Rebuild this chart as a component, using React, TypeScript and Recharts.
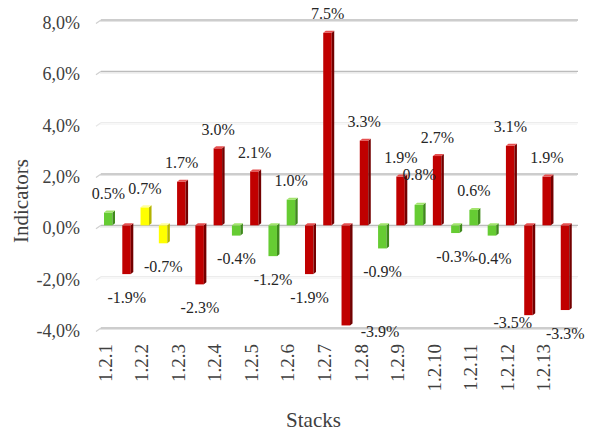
import React from 'react';
import { BarChart, Bar, XAxis, YAxis, CartesianGrid, LabelList } from 'recharts';

// Stack identifiers along the horizontal axis
const categories = [
  '1.2.1', '1.2.2', '1.2.3', '1.2.4', '1.2.5', '1.2.6', '1.2.7',
  '1.2.8', '1.2.9', '1.2.10', '1.2.11', '1.2.12', '1.2.13',
];

// Indicator values in percent, two per stack
const firstValues = [0.5, 0.7, 1.7, 3.0, 2.1, 1.0, 7.5, 3.3, 1.9, 2.7, 0.6, 3.1, 1.9];
const secondValues = [-1.9, -0.7, -2.3, -0.4, -1.2, -1.9, -3.9, -0.9, 0.8, -0.3, -0.4, -3.5, -3.3];

// Status of each value (drives the bar colour)
const firstStatus = ['ok', 'warn', 'alert', 'alert', 'alert', 'ok', 'alert', 'alert', 'alert', 'alert', 'ok', 'alert', 'alert'];
const secondStatus = ['alert', 'warn', 'alert', 'ok', 'ok', 'alert', 'alert', 'ok', 'ok', 'ok', 'ok', 'alert', 'alert'];

const yTicks = [-4, -2, 0, 2, 4, 6, 8];
const Y_MIN = -4;
const Y_MAX = 8;

const rows = categories.map((category, i) => ({
  category,
  first: firstValues[i],
  second: secondValues[i],
  firstStatus: firstStatus[i],
  secondStatus: secondStatus[i],
}));

const palette: Record<string, { front: string; side: string; top: string }> = {
  ok: { front: '#66cc33', side: '#3f8a1c', top: '#a2e46c' },
  warn: { front: '#ffff00', side: '#b3b300', top: '#ffff9c' },
  alert: { front: '#c00000', side: '#730000', top: '#e65050' },
};

const FONT = '"Liberation Serif", "Times New Roman", serif';
const AXIS_TEXT = '#404040';
const DEPTH_X = 2.5;
const DEPTH_Y = 2;

// Box-shaped bar with a front face, a darker side face and a lighter lid
const makeShape = (statusKey: 'firstStatus' | 'secondStatus') => (props: any) => {
  const { x, y, width, height, payload } = props;
  if (x == null || y == null) return null;
  const c = palette[payload[statusKey]];
  const top = Math.min(y, y + height);
  const bottom = Math.max(y, y + height);
  const fw = width - DEPTH_X;
  return (
    <g>
      <rect x={x} y={top} width={fw} height={bottom - top} fill={c.front} />
      <polygon
        points={`${x + fw},${top} ${x + width},${top - DEPTH_Y} ${x + width},${bottom - DEPTH_Y} ${x + fw},${bottom}`}
        fill={c.side}
      />
      <polygon
        points={`${x},${top} ${x + DEPTH_X},${top - DEPTH_Y} ${x + width},${top - DEPTH_Y} ${x + fw},${top}`}
        fill={c.top}
      />
    </g>
  );
};

// A few labels are moved off their bars so they stay readable
const labelNudges: Record<string, [number, number]> = {
  'second-6': [34, -17],
  'second-11': [-16, -16],
  'second-8': [0, -11],
};

const makeLabel = (series: 'first' | 'second') => (props: any) => {
  const vb = props.viewBox ?? props;
  const { x, y, width, height } = vb;
  const value = Number(props.value);
  const index = props.index;
  if (x == null || y == null || Number.isNaN(value)) return null;
  const top = Math.min(y, y + height);
  const bottom = Math.max(y, y + height);
  const nudge = labelNudges[`${series}-${index}`] ?? [0, 0];
  const cx = x + width / 2 - 1 + nudge[0];
  const cy = (value >= 0 ? top - 19 : bottom + 23) + nudge[1];
  return (
    <text
      x={cx}
      y={cy}
      textAnchor="middle"
      dominantBaseline="central"
      fontFamily={FONT}
      fontSize={16}
      fill="#262626"
    >
      {`${value.toFixed(1)}%`}
    </text>
  );
};

// Back-wall grid line with a short slanted stub on the left;
// the 4% and -2% lines are drawn fainter
const renderGridLine = (props: any) => {
  const { x1, x2, y1, y, height } = props;
  let faint = false;
  if (typeof y === 'number' && typeof height === 'number' && height > 0) {
    const v = Math.round(Y_MAX - ((y1 - y) / height) * (Y_MAX - Y_MIN));
    faint = v === 4 || v === -2;
  }
  const main = faint ? '#ececec' : '#bcbcbc';
  const under = faint ? '#f5f5f5' : '#e4e4e4';
  const stub = faint ? '#e6e6e6' : '#cfcfcf';
  return (
    <g key={props.key ?? `g-${y1}`}>
      <line x1={x1 - 4} y1={y1 + 3.5} x2={x1 + 1} y2={y1} stroke={stub} strokeWidth={1.2} />
      <line x1={x1 + 1} y1={y1} x2={x2 + 3} y2={y1} stroke={main} strokeWidth={1.3} />
      <line x1={x1} y1={y1 + 1.5} x2={x2 + 2} y2={y1 + 1.5} stroke={under} strokeWidth={1.2} />
    </g>
  );
};

const renderXTick = (props: any) => {
  const { x, y, payload } = props;
  const tx = x - 13;
  return (
    <text
      x={tx}
      y={y}
      transform={`rotate(-90, ${tx}, ${y})`}
      textAnchor="end"
      dominantBaseline="central"
      fontFamily={FONT}
      fontSize={19}
      fill={AXIS_TEXT}
    >
      {payload.value}
    </text>
  );
};

const renderYTick = (props: any) => {
  const { x, y, payload } = props;
  return (
    <text
      x={x}
      y={y + 3}
      textAnchor="end"
      dominantBaseline="central"
      fontFamily={FONT}
      fontSize={18}
      fill={AXIS_TEXT}
    >
      {`${Number(payload.value).toFixed(1).replace('.', ',')}%`}
    </text>
  );
};

const renderYTitle = (props: any) => {
  const vb = props.viewBox;
  const cx = vb.x + 21;
  const cy = vb.y + vb.height / 2 + 27;
  return (
    <text
      x={cx}
      y={cy}
      transform={`rotate(-90, ${cx}, ${cy})`}
      textAnchor="middle"
      dominantBaseline="central"
      fontFamily={FONT}
      fontSize={21}
      fill={AXIS_TEXT}
    >
      Indicators
    </text>
  );
};

const renderXTitle = (props: any) => {
  const vb = props.viewBox;
  const cx = vb.x + vb.width / 2 - 24;
  const cy = vb.y + 99;
  return (
    <text x={cx} y={cy} textAnchor="middle" fontFamily={FONT} fontSize={21} fill={AXIS_TEXT}>
      Stacks
    </text>
  );
};

export default function App() {
  return (
    <div style={{ position: 'absolute', left: 0, top: 0, width: 589, height: 433, background: '#ffffff' }}>
      <BarChart
        width={589}
        height={433}
        data={rows}
        margin={{ top: 20, right: 14, bottom: 0, left: 0 }}
        barSize={11}
        barGap={7.3}
      >
        <CartesianGrid vertical={false} horizontal={renderGridLine} />
        <XAxis
          dataKey="category"
          height={105}
          interval={0}
          axisLine={false}
          tickLine={false}
          tickSize={0}
          tickMargin={16}
          tick={renderXTick}
          label={{ content: renderXTitle }}
        />
        <YAxis
          type="number"
          width={100}
          domain={[Y_MIN, Y_MAX]}
          ticks={yTicks}
          interval={0}
          axisLine={false}
          tickLine={false}
          tickSize={0}
          tickMargin={20}
          tick={renderYTick}
          label={{ content: renderYTitle }}
        />
        <Bar dataKey="first" shape={makeShape('firstStatus')} isAnimationActive={false}>
          <LabelList dataKey="first" content={makeLabel('first')} />
        </Bar>
        <Bar dataKey="second" shape={makeShape('secondStatus')} isAnimationActive={false}>
          <LabelList dataKey="second" content={makeLabel('second')} />
        </Bar>
      </BarChart>
    </div>
  );
}
